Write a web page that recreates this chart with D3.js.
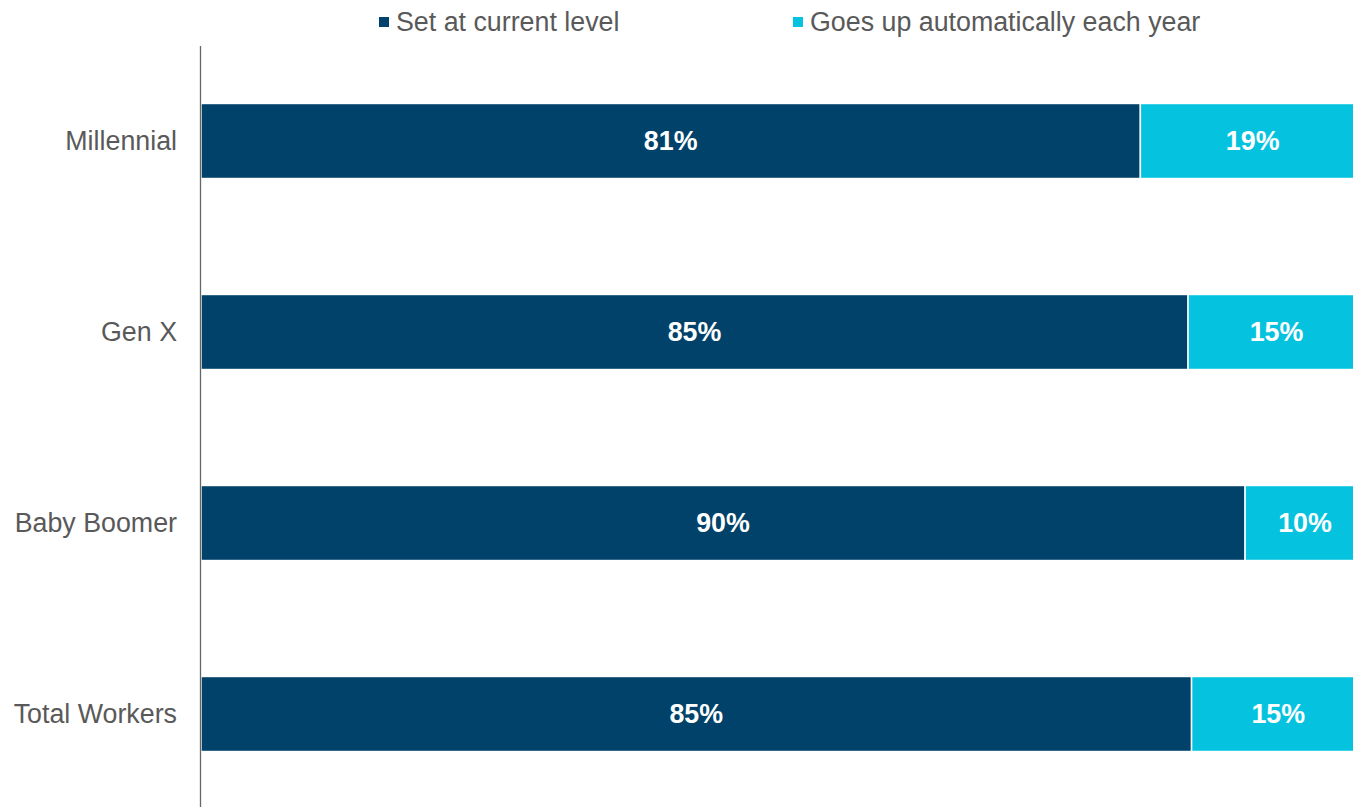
<!DOCTYPE html>
<html>
<head>
<meta charset="utf-8">
<script src="https://cdn.jsdelivr.net/npm/d3@7"></script>
<style>
  body { margin: 0; background: #fff; overflow: hidden; }
  text { font-family: "Liberation Sans", Arial, sans-serif; }
</style>
</head>
<body>
<div id="chart"></div>
<script>
// values (labels are the rounded figures)
const categories = ["Millennial", "Gen X", "Baby Boomer", "Total Workers"];
const seriesNames = ["Set at current level", "Goes up automatically each year"];
const currentLevel = [80.7, 84.8, 89.7, 85.1];
const autoIncrease = [19.3, 15.2, 10.3, 14.9];
const colors = ["#00426A", "#05C3DE"];

const width = 1353, height = 807;
const fontSize = 26.8;

const svg = d3.select("#chart")
  .append("svg")
  .attr("width", width)
  .attr("height", height);

const data = categories.map((c, i) => ({ category: c, values: [currentLevel[i], autoIncrease[i]] }));
const stacked = d3.stack()
  .keys([0, 1])
  .value((d, k) => d.values[k])(data);

const x = d3.scaleLinear()
  .domain([0, 100])
  .range([201, 1365]);

const y = d3.scaleBand()
  .domain(categories)
  .range([45.5, 809.5])
  .paddingInner(0.607)
  .paddingOuter(0.3035);

const layers = svg.append("g")
  .selectAll("g")
  .data(stacked)
  .join("g")
  .attr("fill", (d, i) => colors[i]);

layers.selectAll("rect")
  .data(d => d)
  .join("rect")
  .attr("x", d => x(d[0]))
  .attr("y", d => y(d.data.category))
  .attr("width", d => x(d[1]) - x(d[0]))
  .attr("height", y.bandwidth())
  .attr("stroke", "#fff")
  .attr("stroke-width", 1.5);

layers.selectAll("text")
  .data(d => d)
  .join("text")
  .attr("x", d => (x(d[0]) + x(d[1])) / 2)
  .attr("y", d => y(d.data.category) + y.bandwidth() / 2)
  .attr("dy", "0.35em")
  .attr("text-anchor", "middle")
  .attr("fill", "#fff")
  .attr("font-size", fontSize)
  .attr("font-weight", "bold")
  .text(d => d3.format(".0f")(d[1] - d[0]) + "%");

// category axis
const yAxis = svg.append("g")
  .attr("transform", "translate(200,0)")
  .call(d3.axisLeft(y).tickSize(0).tickPadding(23));
yAxis.select(".domain").attr("stroke", "#666").attr("stroke-width", 1.3);
yAxis.selectAll(".tick text")
  .attr("font-size", fontSize)
  .attr("fill", "#595959")
  .style("font-family", "'Liberation Sans', Arial, sans-serif");

// legend
const legendX = [379, 793];
const legend = svg.append("g")
  .selectAll("g")
  .data(seriesNames)
  .join("g")
  .attr("transform", (d, i) => `translate(${legendX[i]}, 22)`);

legend.append("rect")
  .attr("x", 0)
  .attr("y", -5)
  .attr("width", 10)
  .attr("height", 10)
  .attr("fill", (d, i) => colors[i]);

legend.append("text")
  .attr("x", 17)
  .attr("dy", "0.35em")
  .attr("font-size", fontSize)
  .attr("fill", "#595959")
  .text(d => d);
</script>
</body>
</html>
